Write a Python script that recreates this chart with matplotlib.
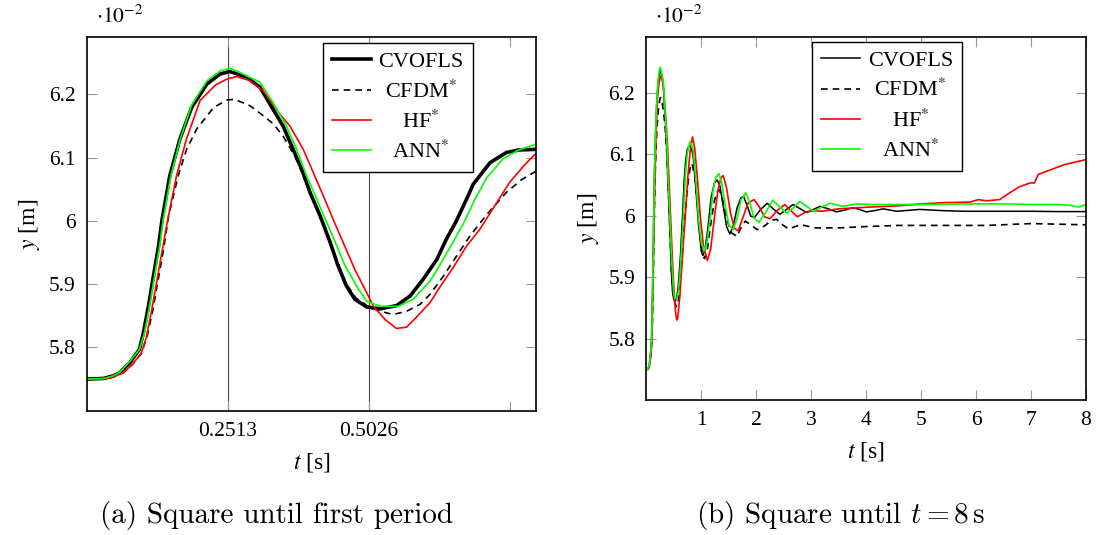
import matplotlib
matplotlib.use("Agg")
import matplotlib.pyplot as plt

plt.rcParams["font.family"] = ["Liberation Serif", "DejaVu Serif"]
plt.rcParams["mathtext.fontset"] = "stix"

# free surface height y [1e-2 m] against t [s]
t_cvofls = [0.000, 0.030, 0.047, 0.059, 0.077, 0.094, 0.101, 0.110, 0.119, 0.128, 0.134, 0.148, 0.166,
            0.187, 0.214, 0.2375, 0.255, 0.285, 0.309, 0.327, 0.350, 0.368, 0.383, 0.398, 0.416, 0.434,
            0.448, 0.463, 0.478, 0.499, 0.523, 0.552, 0.576, 0.600, 0.624, 0.641, 0.659, 0.680, 0.689,
            0.719, 0.748, 0.770, 0.800, 0.830, 0.850, 0.900, 0.950, 1.000, 1.030, 1.070, 1.120, 1.180,
            1.240, 1.290, 1.340, 1.400, 1.460, 1.520, 1.580, 1.650, 1.720, 1.770, 1.840, 1.900, 1.970,
            2.080, 2.200, 2.320, 2.430, 2.550, 2.670, 2.800, 2.920, 3.040, 3.160, 3.310, 3.460, 3.610,
            3.760, 3.880, 4.000, 4.150, 4.310, 4.430, 4.550, 4.970, 5.400, 5.800, 6.200, 6.600, 7.000,
            7.500, 8.000]
y_cvofls = [5.750, 5.751, 5.755, 5.760, 5.776, 5.797, 5.823, 5.865, 5.913, 5.960, 6.000, 6.071, 6.129,
            6.179, 6.216, 6.232, 6.236, 6.227, 6.211, 6.184, 6.150, 6.113, 6.082, 6.045, 6.008, 5.966,
            5.929, 5.897, 5.876, 5.864, 5.861, 5.866, 5.881, 5.908, 5.939, 5.971, 6.000, 6.040, 6.058,
            6.092, 6.108, 6.112, 6.113, 6.106, 6.098, 6.045, 5.985, 5.942, 5.935, 5.945, 5.980, 6.030,
            6.053, 6.058, 6.048, 6.015, 5.982, 5.970, 5.982, 6.012, 6.029, 6.031, 6.015, 5.999, 5.997,
            6.010, 6.020, 6.010, 6.002, 6.010, 6.018, 6.011, 6.005, 6.010, 6.015, 6.011, 6.006, 6.009,
            6.013, 6.010, 6.006, 6.008, 6.011, 6.009, 6.007, 6.010, 6.008, 6.007, 6.007, 6.007, 6.007,
            6.0065, 6.0065]

t_cfdm = [0.000, 0.030, 0.047, 0.065, 0.080, 0.097, 0.107, 0.117, 0.127, 0.137, 0.146, 0.163, 0.178,
          0.196, 0.226, 0.250, 0.264, 0.291, 0.315, 0.333, 0.350, 0.362, 0.372, 0.392, 0.410, 0.430,
          0.447, 0.463, 0.480, 0.500, 0.520, 0.546, 0.570, 0.594, 0.612, 0.636, 0.659, 0.683, 0.713,
          0.748, 0.775, 0.800, 0.830, 0.880, 0.930, 0.980, 1.020, 1.060, 1.110, 1.170, 1.240, 1.300,
          1.330, 1.390, 1.460, 1.550, 1.650, 1.720, 1.800, 1.900, 2.020, 2.150, 2.270, 2.370, 2.480,
          2.590, 2.700, 2.820, 3.070, 3.520, 3.960, 4.600, 5.230, 6.190, 7.000, 8.000]
y_cfdm = [5.750, 5.750, 5.753, 5.760, 5.772, 5.790, 5.815, 5.855, 5.905, 5.955, 6.008, 6.071, 6.113,
          6.145, 6.179, 6.191, 6.192, 6.182, 6.166, 6.153, 6.134, 6.116, 6.100, 6.060, 6.020, 5.975,
          5.935, 5.900, 5.878, 5.866, 5.858, 5.852, 5.857, 5.868, 5.884, 5.913, 5.944, 5.976, 6.010,
          6.045, 6.065, 6.078, 6.085, 6.065, 6.015, 5.965, 5.938, 5.930, 5.945, 5.985, 6.025, 6.040,
          6.042, 6.025, 5.995, 5.972, 5.966, 5.980, 5.991, 5.985, 5.977, 5.983, 5.992, 5.994, 5.985,
          5.978, 5.982, 5.985, 5.980, 5.980, 5.982, 5.984, 5.984, 5.984, 5.987, 5.985]

t_hf = [0.000, 0.030, 0.047, 0.065, 0.080, 0.097, 0.106, 0.115, 0.125, 0.135, 0.144, 0.160, 0.178,
        0.202, 0.230, 0.250, 0.267, 0.290, 0.315, 0.344, 0.362, 0.386, 0.404, 0.422, 0.439, 0.457,
        0.478, 0.493, 0.511, 0.532, 0.552, 0.570, 0.589, 0.612, 0.630, 0.653, 0.677, 0.701, 0.731,
        0.754, 0.780, 0.800, 0.840, 0.880, 0.930, 0.980, 1.040, 1.110, 1.170, 1.230, 1.300, 1.360,
        1.400, 1.460, 1.530, 1.600, 1.670, 1.750, 1.850, 1.960, 2.050, 2.150, 2.250, 2.380, 2.520,
        2.630, 2.750, 2.900, 3.050, 3.200, 3.500, 4.100, 4.600, 5.000, 5.400, 5.890, 6.040, 6.190,
        6.430, 6.610, 6.790, 6.980, 7.060, 7.130, 7.280, 7.460, 7.610, 7.800, 8.000]
y_hf = [5.750, 5.750, 5.753, 5.760, 5.772, 5.790, 5.815, 5.855, 5.905, 5.955, 6.000, 6.071, 6.130,
        6.190, 6.215, 6.224, 6.228, 6.222, 6.205, 6.169, 6.150, 6.113, 6.076, 6.039, 6.003, 5.966,
        5.923, 5.897, 5.865, 5.844, 5.830, 5.832, 5.849, 5.871, 5.896, 5.926, 5.960, 5.987, 6.029,
        6.061, 6.088, 6.106, 6.128, 6.110, 6.060, 6.000, 5.950, 5.927, 5.945, 5.990, 6.040, 6.062,
        6.065, 6.045, 6.005, 5.980, 5.975, 5.995, 6.020, 6.026, 6.015, 5.998, 5.995, 6.008, 6.018,
        6.008, 5.998, 6.006, 6.008, 6.007, 6.011, 6.014, 6.016, 6.019, 6.021, 6.022, 6.026, 6.024,
        6.026, 6.037, 6.047, 6.053, 6.053, 6.067, 6.072, 6.078, 6.083, 6.087, 6.091]

t_ann = [0.000, 0.030, 0.047, 0.059, 0.077, 0.094, 0.103, 0.112, 0.121, 0.130, 0.136, 0.150, 0.167,
         0.187, 0.214, 0.238, 0.255, 0.270, 0.290, 0.309, 0.332, 0.356, 0.374, 0.392, 0.410, 0.428,
         0.445, 0.460, 0.481, 0.499, 0.523, 0.555, 0.582, 0.612, 0.636, 0.671, 0.692, 0.713, 0.742,
         0.770, 0.800, 0.850, 0.900, 0.950, 1.000, 1.060, 1.100, 1.160, 1.220, 1.270, 1.320, 1.370,
         1.430, 1.500, 1.580, 1.650, 1.720, 1.810, 1.880, 1.960, 2.050, 2.170, 2.300, 2.430, 2.550,
         2.670, 2.790, 2.920, 3.040, 3.190, 3.340, 3.580, 3.820, 4.100, 4.600, 5.200, 5.800, 6.500,
         7.000, 7.460, 7.700, 7.800, 7.870, 7.930, 8.000]
y_ann = [5.750, 5.751, 5.755, 5.761, 5.778, 5.797, 5.823, 5.865, 5.913, 5.960, 6.000, 6.071, 6.130,
         6.183, 6.221, 6.237, 6.241, 6.236, 6.227, 6.219, 6.187, 6.150, 6.113, 6.071, 6.034, 5.997,
         5.962, 5.930, 5.897, 5.873, 5.865, 5.865, 5.876, 5.905, 5.940, 5.995, 6.034, 6.068, 6.098,
         6.112, 6.121, 6.108, 6.060, 5.995, 5.955, 5.943, 5.955, 5.995, 6.045, 6.063, 6.068, 6.055,
         6.020, 5.985, 5.977, 5.995, 6.025, 6.037, 6.022, 5.996, 5.989, 6.005, 6.025, 6.014, 6.004,
         6.012, 6.023, 6.015, 6.007, 6.014, 6.020, 6.015, 6.019, 6.018, 6.018, 6.018, 6.019, 6.019,
         6.018, 6.018, 6.017, 6.015, 6.014, 6.016, 6.018]

names = ["CVOFLS", "CFDM$^{*}$", "HF$^{*}$", "ANN$^{*}$"]
periods = [0.2513, 0.5026, 0.7539]
period_labels = ["0.2513", "0.5026", ""]
yticks = [5.8, 5.9, 6.0, 6.1, 6.2]
ytick_labels = ["5.8", "5.9", "6", "6.1", "6.2"]
xticks_b = [1, 2, 3, 4, 5, 6, 7, 8]

fig = plt.figure(figsize=(10.96, 5.35), dpi=100)
axa = fig.add_axes([0.0791, 0.2323, 0.4104, 0.6979])
axb = fig.add_axes([0.5897, 0.2523, 0.4012, 0.6780])

dash = (0, (4, 3))
series = [(t_cvofls, y_cvofls, "black", "-"), (t_cfdm, y_cfdm, "black", dash),
          (t_hf, y_hf, "#ff0000", "-"), (t_ann, y_ann, "#00ff00", "-")]

for ax, thick in [(axa, 2.6), (axb, 1.1)]:
    for i, (tt, yy, c, ls) in enumerate(series):
        lw = thick if i == 0 else 1.2
        ax.plot(tt, yy, color=c, ls=ls, lw=lw, label=names[i], solid_joinstyle="round")
    ax.set_ylim(5.70, 6.29)
    ax.set_yticks(yticks)
    ax.set_yticklabels(ytick_labels)
    ax.tick_params(direction="in", length=7, width=0.8, color="#999999", top=True, right=True,
                   labelsize=15.5, pad=8)
    for s in ax.spines.values():
        s.set_linewidth(1.2)
    ax.set_xlabel("$t$ [s]", fontsize=17, labelpad=7)
    ax.set_ylabel("$y$ [m]", fontsize=17, labelpad=5)
    ax.text(0.02, 1.025, r"$\cdot 10^{-2}$", transform=ax.transAxes, fontsize=15.5, ha="left", va="bottom")

for p in periods[:2]:
    axa.axvline(p, color="#444444", lw=0.8, zorder=0)
axa.set_xlim(0, 0.8017)
axa.set_xticks(periods)
axa.set_xticklabels(period_labels)

axb.set_xlim(0, 8)
axb.set_xticks(xticks_b)
axb.set_xticklabels([str(v) for v in xticks_b])

legends = []
for ax, anchor in [(axa, (0.525, 0.9855)), (axb, (0.377, 0.988))]:
    leg = ax.legend(loc="upper left", bbox_to_anchor=anchor, fontsize=16, frameon=True, fancybox=False,
                    framealpha=1, edgecolor="black", handlelength=1.75, labelspacing=0.36,
                    borderpad=0.4, handletextpad=0.35, borderaxespad=0)
    leg.get_frame().set_linewidth(1.0)
    legends.append(leg)

fig.text(0.2527, 0.037, "(a) Square until first period", family="cmr10", fontsize=21,
         ha="center", va="center", math_fontfamily="cm")
fig.text(0.767, 0.037, r"(b) Square until $t = 8\,\mathrm{s}$", family="cmr10", fontsize=21,
         ha="center", va="center", math_fontfamily="cm")

# centre the legend entries like pgfplots does
fig.canvas.draw()
r = fig.canvas.get_renderer()
for leg in legends:
    rows = leg._legend_handle_box.get_children()[0].get_children()
    widths = [tx.get_window_extent(r).width * 72 / fig.dpi for tx in leg.get_texts()]
    for row, w in zip(rows, widths):
        row.sep = 0.35 * 16 + (max(widths) - w) / 2

fig.savefig("out.png", dpi=100)
